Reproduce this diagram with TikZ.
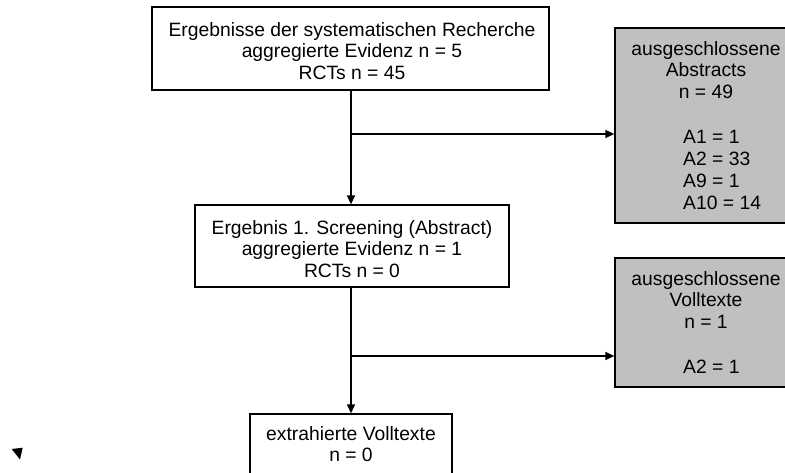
\documentclass[tikz,border=0pt]{standalone}
\usepackage{fontspec}
\setmainfont{Liberation Sans}
\usetikzlibrary{arrows.meta}
\definecolor{boxgray}{RGB}{192,192,192}
\begin{document}
\begin{tikzpicture}[x=1pt,y=-1pt,
  box/.style={draw, line width=1.3pt, rectangle, inner sep=0pt},
  excl/.style={box, fill=boxgray},
  txt/.style={font=\fontsize{19.3}{21.6}\selectfont, align=center, inner sep=0pt, anchor=north},
  ltxt/.style={font=\fontsize{19.3}{21.8}\selectfont, align=left, inner sep=0pt, anchor=north west},
  flow/.style={line width=1.3pt, -{Triangle[length=9pt,width=8pt]}}]
\useasboundingbox (0,0) rectangle (785,472);
\fill[white] (0,0) rectangle (785,472);

% main flow boxes
\node[box, minimum width=397pt, minimum height=83pt] (b1) at (350.5,48.5) {};
\node[box, minimum width=314pt, minimum height=82pt] (b2) at (352,246) {};
\node[box, minimum width=202pt, minimum height=76pt] (b3) at (351,452) {};

% exclusion boxes (run past the right edge)
\node[excl, minimum width=180pt, minimum height=195pt] (gA) at (705,125.5) {};
\node[excl, minimum width=180pt, minimum height=129pt] (gB) at (705,322.5) {};

% texts
\node[txt] (t1) at (352,22.1) {Ergebnisse der systematischen Recherche\\aggregierte Evidenz n = 5\\RCTs n = 45};
\node[txt] (t2) at (352,220.1) {Ergebnis 1. Screening (Abstract)\\aggregierte Evidenz n = 1\\RCTs n = 0};
\node[txt] (t3) at (351,426.1) {extrahierte Volltexte\\n = 0};
\node[txt] (tA) at (706,41.1) {ausgeschlossene\\Abstracts\\n = 49};
\node[ltxt] (tA2) at (683,130.2) {A1 = 1\\A2 = 33\\A9 = 1\\A10 = 14};
\node[txt] (tB) at (706,271.1) {ausgeschlossene\\Volltexte\\n = 1};
\node[ltxt] (tB2) at (683,360.2) {A2 = 1};

% connectors
\coordinate (j1) at (351,134);
\coordinate (j2) at (351,356);
\draw[flow] (b1.south -| j1) -- (b2.north -| j1);
\draw[flow] (j1) -- (j1 -| gA.west);
\draw[flow] (b2.south -| j2) -- (b3.north -| j2);
\draw[flow] (j2) -- (j2 -| gB.west);

% stray arrowhead mark
\fill (11.7,449) -- (22.7,447.7) -- (20,459.5) -- cycle;
\end{tikzpicture}
\end{document}
